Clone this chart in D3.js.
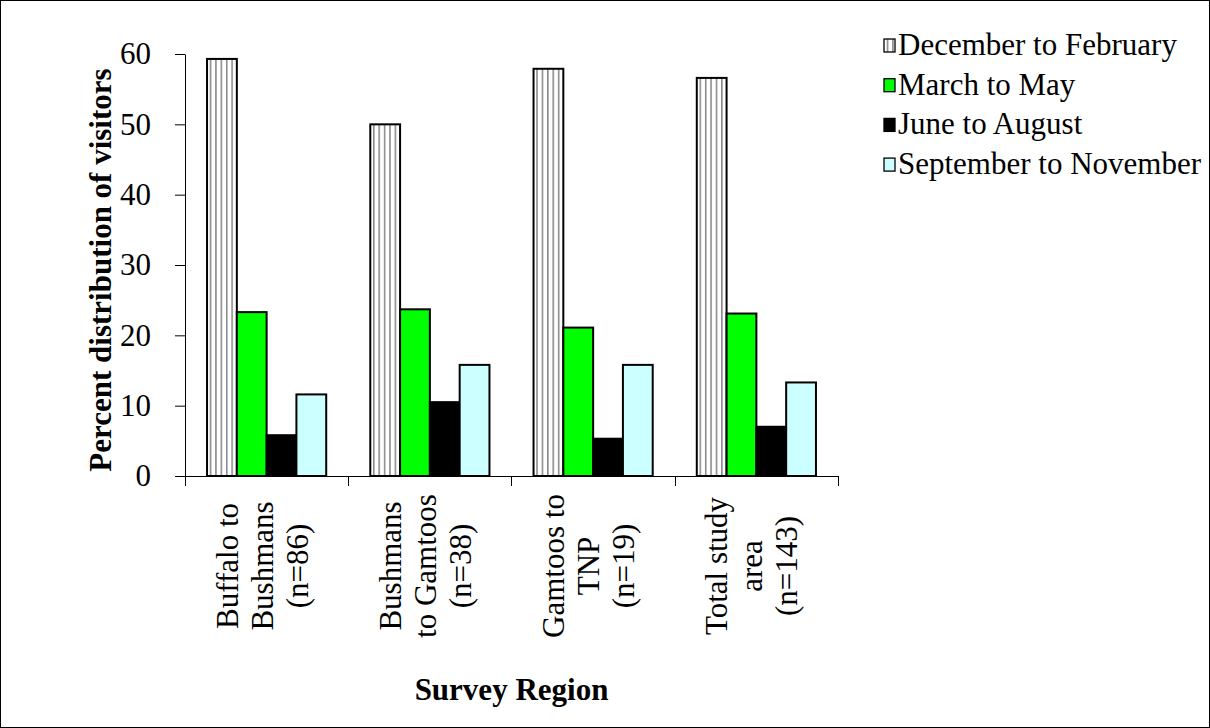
<!DOCTYPE html>
<html>
<head>
<meta charset="utf-8">
<script src="https://cdn.jsdelivr.net/npm/d3@7"></script>
<style>
  html, body { margin: 0; padding: 0; background: #fff; }
  svg { display: block; }
  text { font-family: "Liberation Serif", "Times New Roman", serif; fill: #000; }
</style>
</head>
<body>
<svg id="chart" width="1210" height="728"></svg>
<script>
// Survey regions (category axis), with their rotated label lines
const regions = ["Buffalo to Bushmans", "Bushmans to Gamtoos", "Gamtoos to TNP", "Total study area"];
const regionLabels = [
  ["Buffalo to", "Bushmans", "(n=86)"],
  ["Bushmans", "to Gamtoos", "(n=38)"],
  ["Gamtoos to", "TNP", "(n=19)"],
  ["Total study", "area", "(n=143)"]
];

// Seasons (series) and the percent of visitors per region
const seasons = ["December to February", "March to May", "June to August", "September to November"];
const decToFeb = [59.3, 50.0, 57.9, 56.6];
const marToMay = [23.3, 23.7, 21.1, 23.1];
const junToAug = [5.8, 10.5, 5.3, 7.0];
const sepToNov = [11.6, 15.8, 15.8, 13.3];
const yTicks = [0, 10, 20, 30, 40, 50, 60];

const seriesValues = [decToFeb, marToMay, junToAug, sepToNov];
const fills = ["url(#vstripes)", "#00ff00", "#000000", "#ccffff"];

const svg = d3.select("#chart");
const FONT = 31;
const SERIF = '"Liberation Serif", "Times New Roman", serif';

// Outer frame
svg.append("rect")
  .attr("x", 0.5).attr("y", 0.5)
  .attr("width", 1209).attr("height", 727)
  .attr("fill", "#fff").attr("stroke", "#000").attr("stroke-width", 1);

// Vertical-stripe pattern for the summer series
const defs = svg.append("defs");
const pat = defs.append("pattern")
  .attr("id", "vstripes")
  .attr("patternUnits", "userSpaceOnUse")
  .attr("width", 5.4).attr("height", 10);
pat.append("rect").attr("width", 5.4).attr("height", 10).attr("fill", "#fff");
pat.append("line")
  .attr("x1", 3.5).attr("x2", 3.5).attr("y1", 0).attr("y2", 10)
  .attr("stroke", "#7a7a7a").attr("stroke-width", 1.4);

// Scales
const x0 = d3.scaleBand().domain(regions).range([185, 838])
  .paddingInner(0.27).paddingOuter(0.135);
const x1 = d3.scaleBand().domain(seasons).range([0, x0.bandwidth()]);
const y = d3.scaleLinear().domain([0, 60]).range([476, 54]);

// Y axis
const yAxis = svg.append("g")
  .attr("transform", "translate(185,0)")
  .call(d3.axisLeft(y).tickValues(yTicks).tickSize(10).tickSizeOuter(0).tickPadding(24));
yAxis.attr("font-family", SERIF).attr("font-size", FONT);
yAxis.select(".domain").attr("stroke", "#000").attr("stroke-width", 1);
yAxis.selectAll(".tick line").attr("stroke", "#000").attr("stroke-width", 1);
yAxis.selectAll(".tick text")
  .style("font-family", SERIF)
  .style("font-size", FONT + "px")
  .attr("fill", "#000");

// Bars
const groups = svg.append("g").selectAll("g")
  .data(regions)
  .join("g")
  .attr("transform", d => `translate(${x0(d)},0)`);

groups.selectAll("rect")
  .data((r, i) => seasons.map((s, j) => ({ season: s, value: seriesValues[j][i], fill: fills[j] })))
  .join("rect")
  .attr("x", d => x1(d.season))
  .attr("y", d => y(d.value))
  .attr("width", x1.bandwidth())
  .attr("height", d => y(0) - y(d.value))
  .attr("fill", d => d.fill)
  .attr("stroke", "#000")
  .attr("stroke-width", 2);

// X axis line with category-boundary ticks
const step = x0.step();
const boundaries = regions.map(r => x0(r) - step * x0.paddingOuter())
  .concat([x0(regions[regions.length - 1]) + x0.bandwidth() + step * x0.paddingOuter()]);
svg.append("line")
  .attr("x1", 185).attr("x2", 838)
  .attr("y1", y(0) + 0.5).attr("y2", y(0) + 0.5)
  .attr("stroke", "#000").attr("stroke-width", 1);
svg.append("g").selectAll("line")
  .data(boundaries)
  .join("line")
  .attr("x1", d => Math.round(d) + 0.5).attr("x2", d => Math.round(d) + 0.5)
  .attr("y1", y(0)).attr("y2", y(0) + 10)
  .attr("stroke", "#000").attr("stroke-width", 1);

// Rotated multi-line category labels
const lineH = 35;
svg.append("g").selectAll("text")
  .data(regionLabels)
  .join("text")
  .attr("transform", (d, i) => `translate(${x0(regions[i]) + x0.bandwidth() / 2 + 6},566) rotate(-90)`)
  .attr("text-anchor", "middle")
  .style("font-family", SERIF)
  .style("font-size", FONT + "px")
  .selectAll("tspan")
  .data(d => d)
  .join("tspan")
  .attr("x", 0)
  .attr("y", (d, k) => (k - 1) * lineH)
  .text(d => d);

// Axis titles
svg.append("text")
  .attr("transform", "translate(111,270) rotate(-90)")
  .attr("text-anchor", "middle")
  .style("font-family", SERIF)
  .style("font-size", FONT + "px")
  .style("font-weight", "bold")
  .text("Percent distribution of visitors");

svg.append("text")
  .attr("x", (185 + 838) / 2)
  .attr("y", 700)
  .attr("text-anchor", "middle")
  .style("font-family", SERIF)
  .style("font-size", FONT + "px")
  .style("font-weight", "bold")
  .text("Survey Region");

// Legend
const legend = svg.append("g").attr("transform", "translate(884,39)");
const rowH = 39.7;
const items = legend.selectAll("g")
  .data(seasons)
  .join("g")
  .attr("transform", (d, i) => `translate(0,${i * rowH})`);
items.append("rect")
  .attr("width", 11).attr("height", 13)
  .attr("fill", (d, i) => fills[i])
  .attr("stroke", "#000").attr("stroke-width", 1.3);
items.append("text")
  .attr("x", 14).attr("y", 16)
  .style("font-family", SERIF)
  .style("font-size", FONT + "px")
  .text(d => d);
</script>
</body>
</html>
